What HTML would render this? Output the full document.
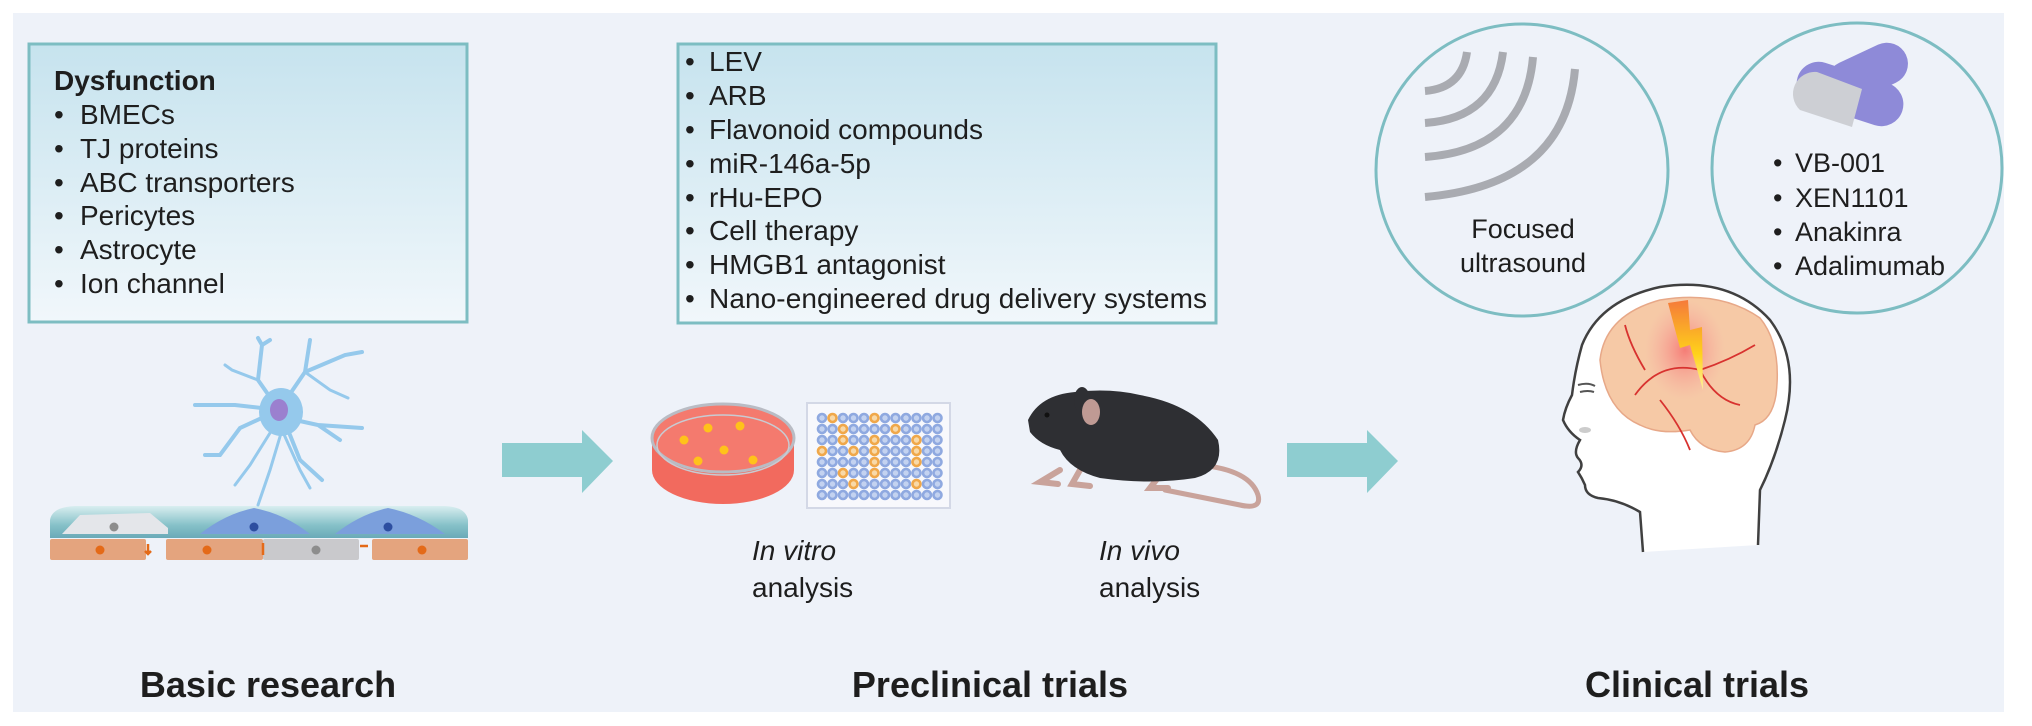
<!DOCTYPE html>
<html><head><meta charset="utf-8"><style>
html,body{margin:0;padding:0;background:#fff;}
svg{display:block;}
text{font-family:"Liberation Sans",Arial,sans-serif;fill:#1e1e1e;}
</style></head><body>
<svg width="2032" height="726" viewBox="0 0 2032 726" xmlns="http://www.w3.org/2000/svg">
<defs>
<linearGradient id="bx" x1="0" y1="0" x2="0" y2="1"><stop offset="0" stop-color="#c6e3ee"/><stop offset="1" stop-color="#f1f7fb"/></linearGradient>
<linearGradient id="lay" x1="0" y1="0" x2="0" y2="1"><stop offset="0" stop-color="#d9eef0"/><stop offset="0.6" stop-color="#86c1c8"/><stop offset="1" stop-color="#6aaab8"/></linearGradient>
<radialGradient id="hot" cx="0.5" cy="0.5" r="0.5"><stop offset="0" stop-color="#f56a6a" stop-opacity="0.8"/><stop offset="1" stop-color="#f7a0a0" stop-opacity="0"/></radialGradient>
<linearGradient id="bolt" x1="0" y1="0" x2="0" y2="1"><stop offset="0" stop-color="#f57a3a"/><stop offset="0.6" stop-color="#ffd21a"/><stop offset="1" stop-color="#fff3a0"/></linearGradient>
</defs>
<rect x="13" y="13" width="1991" height="699" fill="#eef2f9"/>

<!-- Left box -->
<rect x="29" y="44" width="438" height="278" fill="url(#bx)" stroke="#7dbdc2" stroke-width="3"/>
<text x="54" y="90" font-size="28" font-weight="bold">Dysfunction</text>
<g font-size="28">
<text x="54" y="124">•</text><text x="80" y="124">BMECs</text>
<text x="54" y="158">•</text><text x="80" y="158">TJ proteins</text>
<text x="54" y="192">•</text><text x="80" y="192">ABC transporters</text>
<text x="54" y="225">•</text><text x="80" y="225">Pericytes</text>
<text x="54" y="259">•</text><text x="80" y="259">Astrocyte</text>
<text x="54" y="293">•</text><text x="80" y="293">Ion channel</text>
</g>

<!-- Middle box -->
<rect x="678" y="44" width="538" height="279" fill="url(#bx)" stroke="#7dbdc2" stroke-width="3"/>
<g font-size="28">
<text x="685" y="71">•</text><text x="709" y="71">LEV</text>
<text x="685" y="105">•</text><text x="709" y="105">ARB</text>
<text x="685" y="139">•</text><text x="709" y="139">Flavonoid compounds</text>
<text x="685" y="173">•</text><text x="709" y="173">miR-146a-5p</text>
<text x="685" y="207">•</text><text x="709" y="207">rHu-EPO</text>
<text x="685" y="240">•</text><text x="709" y="240">Cell therapy</text>
<text x="685" y="274">•</text><text x="709" y="274">HMGB1 antagonist</text>
<text x="685" y="308">•</text><text x="709" y="308" textLength="498">Nano-engineered drug delivery systems</text>
</g>

<!-- BBB illustration -->
<g>
<path d="M50 538 L50 520 Q52 507 75 506 L445 506 Q466 507 468 520 L468 538 Z" fill="url(#lay)"/>
<path d="M62 534 L80 515 L150 513 L168 528 L168 534 Z" fill="#e4e6ea"/>
<path d="M200 534 Q225 514 254 508 Q285 514 310 534 Z" fill="#7b9fdc"/>
<path d="M335 534 Q360 514 388 508 Q418 514 445 534 Z" fill="#7b9fdc"/>
<circle cx="114" cy="527" r="4.5" fill="#8d8d8d"/>
<circle cx="254" cy="527" r="4.5" fill="#2d4ea0"/>
<circle cx="388" cy="527" r="4.5" fill="#2d4ea0"/>
<rect x="50" y="539" width="96" height="21" rx="2" fill="#e4a47e"/>
<rect x="166" y="539" width="97" height="21" rx="2" fill="#e4a47e"/>
<rect x="263" y="539" width="96" height="21" rx="2" fill="#c9c9cc"/>
<rect x="372" y="539" width="96" height="21" rx="2" fill="#e4a47e"/>
<circle cx="100" cy="550" r="4.5" fill="#e46a18"/>
<circle cx="207" cy="550" r="4.5" fill="#e46a18"/>
<circle cx="316" cy="550" r="4.5" fill="#8d8d8d"/>
<circle cx="422" cy="550" r="4.5" fill="#e46a18"/>
<path d="M148 544 v10 M145 551 l3 3 l3 -3 M263 543 v12 M360 546 h8" stroke="#e46a18" stroke-width="2.5" fill="none"/>
</g>
<!-- Astrocyte -->
<g stroke="#95c9ec" fill="none" stroke-linecap="round">
<path d="M279 410 L258 380 L262 345 M262 345 L258 338 M262 345 L270 340" stroke-width="4"/>
<path d="M279 410 L305 372 L310 340 M305 372 L345 355 L362 352" stroke-width="4"/>
<path d="M279 410 L235 405 L195 405" stroke-width="4"/>
<path d="M279 410 L240 428 L220 455 L205 455" stroke-width="4"/>
<path d="M286 418 L318 425 L340 440 M318 425 L362 428" stroke-width="4"/>
<path d="M286 425 L300 460 L322 480" stroke-width="4"/>
<path d="M282 430 L270 470 L258 505" stroke-width="3"/>
<path d="M282 430 L300 470 L310 488" stroke-width="3"/>
<path d="M275 425 L250 465 L235 485" stroke-width="3"/>
<path d="M305 372 L330 390 L348 398" stroke-width="3"/>
<path d="M258 380 L232 370 L225 365" stroke-width="3"/>
</g>
<ellipse cx="281" cy="412" rx="22" ry="24" fill="#95c9ec"/>
<ellipse cx="279" cy="410" rx="9" ry="11" fill="#9b80cf"/>

<!-- Arrow 1 -->
<path d="M502 443 L582 443 L582 430 L613 461 L582 493 L582 477 L502 477 Z" fill="#8ecdd0"/>

<!-- Petri dish -->
<ellipse cx="723" cy="470" rx="71" ry="34" fill="#f26a5e"/>
<rect x="652" y="440" width="142" height="30" fill="#f26a5e"/>
<ellipse cx="723" cy="438" rx="71" ry="34" fill="#f47a6e" stroke="#b9bcc4" stroke-width="3"/>
<ellipse cx="723" cy="445" rx="66" ry="30" fill="none" stroke="#c8cbd2" stroke-width="1.5"/>
<g fill="#ffc21a">
<circle cx="708" cy="428" r="4.5"/><circle cx="740" cy="426" r="4.5"/><circle cx="684" cy="440" r="4.5"/>
<circle cx="724" cy="450" r="4.5"/><circle cx="698" cy="461" r="4.5"/><circle cx="753" cy="460" r="4.5"/>
</g>
<!-- Well plate -->
<rect x="807" y="403" width="143" height="105" fill="#f7f8fc" stroke="#d3d8e6" stroke-width="2"/>
<g id="wells" fill="none" stroke-width="2.6">
</g>
<g stroke-width="2.6" fill="#c3d2f0">
<!-- rows generated inline -->
<g stroke="#8fa9e0">
<circle cx="822" cy="418" r="4"/><circle cx="832.5" cy="418" r="4" stroke="#f0a84a" fill="#f8d9a8"/><circle cx="843" cy="418" r="4"/><circle cx="853.5" cy="418" r="4"/><circle cx="864" cy="418" r="4"/><circle cx="874.5" cy="418" r="4" stroke="#f0a84a" fill="#f8d9a8"/><circle cx="885" cy="418" r="4"/><circle cx="895.5" cy="418" r="4"/><circle cx="906" cy="418" r="4"/><circle cx="916.5" cy="418" r="4"/><circle cx="927" cy="418" r="4"/><circle cx="937.5" cy="418" r="4"/>
<circle cx="822" cy="429" r="4"/><circle cx="832.5" cy="429" r="4"/><circle cx="843" cy="429" r="4" stroke="#f0a84a" fill="#f8d9a8"/><circle cx="853.5" cy="429" r="4"/><circle cx="864" cy="429" r="4"/><circle cx="874.5" cy="429" r="4"/><circle cx="885" cy="429" r="4"/><circle cx="895.5" cy="429" r="4" stroke="#f0a84a" fill="#f8d9a8"/><circle cx="906" cy="429" r="4"/><circle cx="916.5" cy="429" r="4"/><circle cx="927" cy="429" r="4"/><circle cx="937.5" cy="429" r="4"/>
<circle cx="822" cy="440" r="4"/><circle cx="832.5" cy="440" r="4"/><circle cx="843" cy="440" r="4" stroke="#f0a84a" fill="#f8d9a8"/><circle cx="853.5" cy="440" r="4"/><circle cx="864" cy="440" r="4"/><circle cx="874.5" cy="440" r="4" stroke="#f0a84a" fill="#f8d9a8"/><circle cx="885" cy="440" r="4"/><circle cx="895.5" cy="440" r="4"/><circle cx="906" cy="440" r="4"/><circle cx="916.5" cy="440" r="4" stroke="#f0a84a" fill="#f8d9a8"/><circle cx="927" cy="440" r="4"/><circle cx="937.5" cy="440" r="4"/>
<circle cx="822" cy="451" r="4" stroke="#f0a84a" fill="#f8d9a8"/><circle cx="832.5" cy="451" r="4"/><circle cx="843" cy="451" r="4"/><circle cx="853.5" cy="451" r="4" stroke="#f0a84a" fill="#f8d9a8"/><circle cx="864" cy="451" r="4"/><circle cx="874.5" cy="451" r="4" stroke="#f0a84a" fill="#f8d9a8"/><circle cx="885" cy="451" r="4"/><circle cx="895.5" cy="451" r="4"/><circle cx="906" cy="451" r="4"/><circle cx="916.5" cy="451" r="4" stroke="#f0a84a" fill="#f8d9a8"/><circle cx="927" cy="451" r="4"/><circle cx="937.5" cy="451" r="4"/>
<circle cx="822" cy="462" r="4"/><circle cx="832.5" cy="462" r="4"/><circle cx="843" cy="462" r="4"/><circle cx="853.5" cy="462" r="4"/><circle cx="864" cy="462" r="4"/><circle cx="874.5" cy="462" r="4" stroke="#f0a84a" fill="#f8d9a8"/><circle cx="885" cy="462" r="4"/><circle cx="895.5" cy="462" r="4"/><circle cx="906" cy="462" r="4"/><circle cx="916.5" cy="462" r="4" stroke="#f0a84a" fill="#f8d9a8"/><circle cx="927" cy="462" r="4"/><circle cx="937.5" cy="462" r="4"/>
<circle cx="822" cy="473" r="4"/><circle cx="832.5" cy="473" r="4"/><circle cx="843" cy="473" r="4" stroke="#f0a84a" fill="#f8d9a8"/><circle cx="853.5" cy="473" r="4"/><circle cx="864" cy="473" r="4"/><circle cx="874.5" cy="473" r="4" stroke="#f0a84a" fill="#f8d9a8"/><circle cx="885" cy="473" r="4"/><circle cx="895.5" cy="473" r="4"/><circle cx="906" cy="473" r="4"/><circle cx="916.5" cy="473" r="4"/><circle cx="927" cy="473" r="4"/><circle cx="937.5" cy="473" r="4"/>
<circle cx="822" cy="484" r="4"/><circle cx="832.5" cy="484" r="4"/><circle cx="843" cy="484" r="4"/><circle cx="853.5" cy="484" r="4" stroke="#f0a84a" fill="#f8d9a8"/><circle cx="864" cy="484" r="4"/><circle cx="874.5" cy="484" r="4"/><circle cx="885" cy="484" r="4"/><circle cx="895.5" cy="484" r="4"/><circle cx="906" cy="484" r="4"/><circle cx="916.5" cy="484" r="4" stroke="#f0a84a" fill="#f8d9a8"/><circle cx="927" cy="484" r="4"/><circle cx="937.5" cy="484" r="4"/>
<circle cx="822" cy="495" r="4"/><circle cx="832.5" cy="495" r="4"/><circle cx="843" cy="495" r="4"/><circle cx="853.5" cy="495" r="4"/><circle cx="864" cy="495" r="4"/><circle cx="874.5" cy="495" r="4"/><circle cx="885" cy="495" r="4"/><circle cx="895.5" cy="495" r="4"/><circle cx="906" cy="495" r="4"/><circle cx="916.5" cy="495" r="4"/><circle cx="927" cy="495" r="4"/><circle cx="937.5" cy="495" r="4"/>
</g></g>

<!-- Mouse -->
<path d="M1200 465 Q1250 470 1258 495 Q1262 510 1240 505 Q1200 497 1165 490" stroke="#c9a39b" stroke-width="5" fill="none" stroke-linecap="round"/>
<path d="M1060 470 L1040 482 L1058 484 M1080 470 L1072 484 L1090 486 M1160 475 L1150 488 L1168 488" stroke="#c9a39b" stroke-width="6" fill="none" stroke-linecap="round"/>
<path d="M1028 420 Q1040 395 1075 392 Q1110 388 1140 395 Q1195 405 1218 440 Q1225 470 1195 478 Q1150 485 1100 478 Q1070 470 1060 450 Q1040 445 1030 432 Z" fill="#2e2f33"/>
<ellipse cx="1082" cy="400" rx="8" ry="13" fill="#2e2f33"/>
<ellipse cx="1091" cy="412" rx="9" ry="13" fill="#bf9a94"/>
<circle cx="1047" cy="415" r="2.5" fill="#111"/>

<g font-size="28">
<text x="752" y="560" font-style="italic">In vitro</text>
<text x="752" y="597">analysis</text>
<text x="1099" y="560" font-style="italic">In  vivo</text>
<text x="1099" y="597">analysis</text>
</g>

<!-- Arrow 2 -->
<path d="M1287 443 L1367 443 L1367 430 L1398 461 L1367 493 L1367 477 L1287 477 Z" fill="#8ecdd0"/>

<!-- Ultrasound circle -->
<circle cx="1522" cy="170" r="146" fill="none" stroke="#7dbdc2" stroke-width="3"/>
<g stroke="#a9abb1" stroke-width="8" fill="none" stroke-linecap="butt">
<path d="M1425 91 Q1462 88 1467 52"/>
<path d="M1425 123 Q1495 118 1503 52"/>
<path d="M1425 157 Q1525 150 1533 57"/>
<path d="M1425 197 Q1565 185 1575 69"/>
</g>
<g font-size="27" text-anchor="middle">
<text x="1523" y="238">Focused</text>
<text x="1523" y="272">ultrasound</text>
</g>

<!-- Pill circle -->
<circle cx="1857" cy="168" r="145" fill="none" stroke="#7dbdc2" stroke-width="3"/>
<g>
<rect x="1825" y="52" width="85" height="42" rx="21" transform="rotate(-25 1867 73)" fill="#8e8ad8"/>
<rect x="1795" y="72" width="110" height="44" rx="22" transform="rotate(18 1850 94)" fill="#8e8ad8"/>
<path d="M1817 72 A22 22 0 0 0 1800 110 L1852 127 L1862 89 Z" fill="#cdcfd4"/>
</g>
<g font-size="27">
<text x="1773" y="172">•</text><text x="1795" y="172">VB-001</text>
<text x="1773" y="207">•</text><text x="1795" y="207">XEN1101</text>
<text x="1773" y="241">•</text><text x="1795" y="241">Anakinra</text>
<text x="1773" y="275">•</text><text x="1795" y="275">Adalimumab</text>
</g>

<!-- Head -->
<path d="M1643 552 L1640 512 Q1620 500 1598 498 Q1585 495 1585 485 Q1582 478 1578 472 Q1585 465 1578 458 Q1573 452 1580 440 Q1568 432 1563 420 Q1565 408 1572 395 Q1575 370 1582 345 Q1600 300 1660 287 Q1730 276 1770 320 Q1800 360 1785 420 Q1775 460 1760 490 L1758 545" fill="#fff" stroke="#404040" stroke-width="2.5"/>
<path d="M1600 360 Q1605 315 1660 300 Q1720 290 1760 318 Q1782 345 1776 395 Q1772 420 1755 425 Q1750 450 1725 452 Q1700 450 1690 430 Q1660 435 1640 425 Q1605 410 1600 360 Z" fill="#f6c9a6" stroke="#e7a888" stroke-width="1.5"/>
<ellipse cx="1685" cy="350" rx="40" ry="50" fill="url(#hot)"/>
<g stroke="#d8322f" stroke-width="1.8" fill="none">
<path d="M1635 395 Q1660 360 1700 370 Q1730 360 1755 345"/>
<path d="M1660 400 Q1680 425 1690 450"/>
<path d="M1645 370 Q1630 345 1625 325"/>
<path d="M1700 370 Q1715 400 1740 405"/>
</g>
<path d="M1668 303 L1688 300 L1690 330 L1702 327 L1703 390 L1690 345 L1680 348 Z" fill="url(#bolt)"/>
<path d="M1578 385 Q1588 382 1595 386 M1580 392 Q1588 390 1594 392" stroke="#555" stroke-width="2" fill="none"/>
<ellipse cx="1585" cy="430" rx="6" ry="3" fill="#ccc"/>

<!-- Titles -->
<g font-size="36" font-weight="bold" text-anchor="middle">
<text x="268" y="697">Basic research</text>
<text x="990" y="697">Preclinical trials</text>
<text x="1697" y="697">Clinical trials</text>
</g>
</svg>
</body></html>
